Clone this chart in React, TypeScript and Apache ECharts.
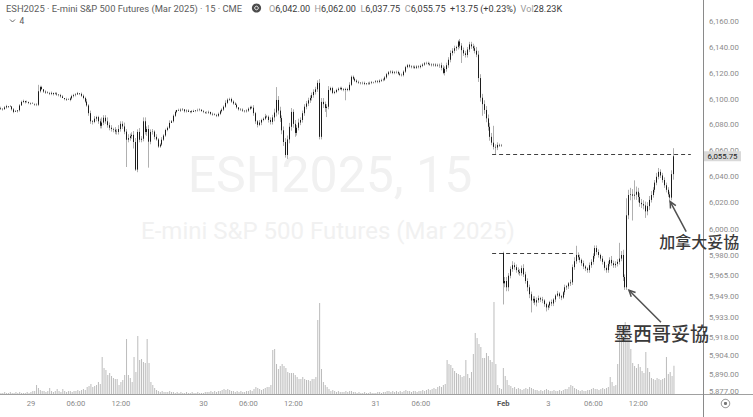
import React, { useEffect, useRef } from 'react';
import * as echarts from 'echarts';

const FONT = 'Roboto, "Noto Sans", Arial, sans-serif';
const CJK = '"Noto Sans CJK SC", "Noto Sans CJK TC", sans-serif';

const TITLE = 'ESH2025 · E-mini S&P 500 Futures (Mar 2025) · 15 · CME';
const WATERMARK_SYMBOL = 'ESH2025, 15';
const WATERMARK_NAME = 'E-mini S&P 500 Futures (Mar 2025)';
const INDICATOR_COUNT = '4';

// trading sessions (ET): first day, first minute, last day, end minute (exclusive)
const sessions: [string, number, string, number][] = [
  ['01-28', 1200, '01-29', 1020],
  ['01-29', 1080, '01-30', 1020],
  ['01-30', 1080, '01-31', 1020],
  ['02-02', 1080, '02-03', 1020],
];
const futureSlots = { day: '02-03', fromMin: 1080, count: 15 };
const sessionOpens = [6093, 6068.75, 6107, 5981.75];

// 15-minute closes per session
const closeS1 = [
  6092.5, 6092, 6093.5, 6094.5, 6094, 6094.25, 6092, 6090, 6090.5, 6091.25, 6095, 6097.75, 6098.5, 6097.5, 6097.75, 6097,
  6096.5, 6096.25, 6095.75, 6095.5, 6106, 6109.25, 6107.5, 6105.75, 6105, 6104.5, 6104, 6104.75, 6103.75, 6104.25, 6103.5, 6103, 6102, 6100.75, 6100, 6099.5, 6099.25, 6100.5, 6102.25, 6103,
  6103.5, 6104.5, 6104, 6102.5, 6100.75, 6098, 6095, 6089, 6082.75, 6082.25, 6084.75, 6086, 6082.75, 6079.25,
  6081.75, 6085.5, 6082.75, 6079.75, 6077.75, 6076.75, 6076.25, 6074.75, 6074.5, 6076.75, 6080.75, 6078.75, 6074.75, 6068.5, 6069.75, 6071.25, 6072.25, 6066.75, 6045.5, 6074.5, 6068.5, 6069.25, 6082.75, 6074.5, 6076.75, 6067, 6074.5, 6074.75, 6070.75, 6068.75,
];
const closeS2 = [
  6063.25, 6064.75, 6068.5, 6071.75, 6076, 6077.75, 6081.5, 6082.75, 6087, 6090, 6091.5, 6091, 6091.75, 6092, 6090.5, 6091, 6090, 6090.5, 6090, 6090.75, 6091.25, 6091.5, 6091.75, 6090.5,
  6090, 6089.5, 6089.5, 6090, 6088.5, 6088, 6087.5, 6087, 6088.5, 6090.5, 6091.75, 6094, 6097, 6099.5, 6100, 6098, 6096.5, 6095.5, 6093.5, 6092, 6091.75, 6091, 6090.5, 6091,
  6092.5, 6093.75, 6093.25, 6089, 6082.75, 6080, 6081.75, 6083.75, 6084.75, 6086.5, 6086.25, 6083.75, 6082.25, 6085.75,
  6089.5, 6099.25, 6091, 6085.25, 6075.75, 6066.75, 6056.75, 6068.75, 6078.5, 6090, 6080.75, 6073.75, 6077.75, 6081.75, 6083.75, 6089, 6094, 6096.5, 6099, 6100.75, 6103, 6105.5, 6107.5, 6112.5, 6070.75, 6097.75, 6096, 6093, 6094, 6107,
];
const closeS3 = [
  6108.5, 6104.75, 6105.5, 6107, 6108, 6108.5, 6107.5, 6107, 6107.75, 6107, 6111, 6117.25, 6115.75, 6114.25, 6113.25, 6112.75, 6112.25, 6112.5, 6111.75, 6112.25, 6112, 6112.5, 6113, 6113.25,
  6113.75, 6113.25, 6114.25, 6114.75, 6115, 6116.75, 6119.25, 6120.75, 6121.25, 6120.25, 6120.75, 6121, 6119.75, 6118.75, 6118.5, 6121.25, 6124.75, 6126.25, 6125.25, 6124.75, 6125, 6124.25, 6125.25, 6124.75,
  6125.75, 6126.75, 6127.75, 6128, 6127.25, 6126.75, 6126.25, 6126.75, 6126, 6126.5, 6126.25, 6124.25, 6120.25, 6123.25,
  6126.25, 6130.5, 6135.75, 6137.5, 6139.5, 6140.5, 6144.75, 6141.5, 6138, 6135.5, 6134.25, 6138.5, 6142.5, 6141, 6139.5, 6137.5, 6134.5, 6116.25, 6101, 6096, 6091.5, 6085, 6078.5, 6070.75, 6066.25, 6063, 6062.5, 6064.5, 6064, 6064.25,
];
const closeS4 = [
  5958.75, 5960.5, 5955.75, 5964.5, 5969.5, 5972.5, 5971, 5968.75, 5967.5, 5966.5, 5970.25, 5965.5, 5960.5, 5955.75, 5950.5, 5945.75, 5947, 5944.25, 5946, 5947.5, 5946.5, 5945.75, 5943, 5940.5,
  5942, 5944.5, 5943.5, 5946.5, 5949.5, 5951, 5949, 5948, 5952, 5955.75, 5956.5, 5958.75, 5959.5, 5971, 5975.5, 5980.25, 5978.5, 5976.5, 5974, 5971.5, 5970, 5968.75, 5972.5, 5975,
  5979.5, 5985.5, 5982.5, 5980.25, 5977.5, 5975, 5970.5, 5968.75, 5973.5, 5976.5, 5974, 5972.5, 5973.5, 5975,
  5977.5, 5980.25, 5963.5, 5955.75, 6010.5, 6026, 6026.5, 6025.5, 6026.25, 6028.5, 6024.5, 6020, 6019, 6018, 6013.5, 6017.5, 6022.25, 6026, 6030, 6035.5, 6040, 6043.75, 6041, 6037.5, 6033.5, 6030, 6026.5, 6024, 6042, 6055.75,
];

// upper wick above the body (points)
const upS1 = [
  1, 0, 1, 1, 0, 1, 0, 1, 1, 0, 1, 1, 1, 0, 1, 0,
  0, 1, 0, 1, 5, 1, 1, 0, 1, 1, 1, 1, 0, 1, 1, 0, 1, 1, 0, 1, 1, 1, 1, 1,
  1, 1, 0, 1, 1, 1, 2, 1, 2, 1, 2, 1, 1, 2,
  4, 2, 2, 3, 2, 2, 1, 2, 2, 3, 2, 2, 3, 2, 3, 2, 2, 3, 3, 2, 3, 2, 3, 3, 2, 3, 2, 2, 1, 2,
];
const upS2 = [
  1, 1, 2, 1, 1, 1, 2, 1, 1, 1, 0, 1, 1, 1, 0, 1, 1, 0, 1, 1, 0, 1, 1, 0,
  1, 0, 1, 1, 0, 1, 1, 1, 1, 1, 1, 1, 2, 1, 1, 1, 1, 1, 1, 0, 1, 1, 0, 1,
  1, 1, 1, 2, 1, 1, 2, 1, 1, 2, 1, 1, 2, 2,
  3, 10, 3, 3, 2, 3, 3, 3, 3, 3, 2, 3, 2, 3, 2, 2, 2, 2, 2, 2, 2, 2, 2, 2, 3, 3, 3, 2, 2, 3,
];
const upS3 = [
  1, 1, 1, 1, 1, 1, 1, 1, 1, 1, 2, 1, 1, 1, 1, 1, 0, 1, 1, 0, 1, 1, 1, 0,
  1, 1, 1, 1, 1, 1, 1, 1, 1, 1, 1, 1, 1, 1, 1, 1, 1, 1, 1, 1, 1, 1, 1, 1,
  1, 1, 1, 1, 1, 1, 1, 1, 1, 1, 1, 2, 2, 2,
  2, 2, 2, 2, 2, 1, 1, 2, 2, 2, 2, 2, 2, 2, 2, 2, 3, 3, 3, 3, 3, 3, 3, 3, 3, 13, 2, 2, 1, 1,
];
const upS4 = [
  1, 3, 3, 2, 2, 3, 2, 2, 2, 2, 2, 3, 2, 2, 2, 2, 2, 2, 2, 2, 1, 2, 1, 1,
  1, 1, 2, 1, 1, 2, 1, 1, 1, 2, 1, 1, 2, 2, 3, 7, 2, 2, 1, 2, 1, 1, 2, 2,
  2, 2, 2, 2, 1, 2, 1, 2, 2, 2, 3, 2, 2, 2,
  12, 3, 4, 2, 13, 4, 5, 4, 11, 4, 3, 3, 3, 3, 3, 3, 3, 3, 2, 2, 3, 3, 2, 2, 2, 2, 2, 2, 3, 6.25,
];

// lower wick below the body (points)
const dnS1 = [
  1, 1, 0, 1, 1, 0, 1, 1, 0, 1, 1, 0, 1, 1, 0, 1,
  1, 0, 1, 1, 1, 1, 0, 1, 1, 0, 1, 1, 1, 0, 1, 1, 1, 0, 1, 1, 0, 1, 1, 1,
  1, 0, 1, 1, 1, 1, 1, 2, 2, 2, 1, 2, 2, 2,
  2, 2, 2, 2, 2, 2, 2, 2, 2, 2, 2, 2, 2, 21, 2, 2, 2, 5, 1, 2, 2, 2, 2, 2, 3, 20, 2, 2, 2, 1,
];
const dnS2 = [
  1, 1, 1, 1, 1, 1, 1, 0, 1, 1, 1, 0, 1, 1, 1, 1, 0, 1, 1, 0, 1, 1, 1, 0,
  1, 1, 1, 1, 1, 1, 0, 1, 1, 1, 1, 1, 1, 1, 1, 1, 1, 0, 1, 1, 1, 1, 1, 1,
  1, 1, 1, 2, 2, 2, 1, 2, 1, 1, 1, 2, 2, 2,
  3, 3, 3, 3, 3, 3, 2, 3, 3, 3, 3, 3, 2, 2, 2, 2, 2, 2, 2, 2, 2, 2, 2, 2, 2, 2, 3, 3, 7, 2,
];
const dnS3 = [
  1, 1, 1, 1, 1, 1, 1, 1, 8, 1, 1, 1, 1, 1, 1, 1, 1, 1, 1, 1, 1, 1, 1, 1,
  1, 1, 1, 1, 1, 1, 1, 1, 1, 1, 1, 1, 1, 1, 1, 1, 1, 1, 1, 1, 1, 1, 1, 1,
  1, 1, 1, 1, 1, 1, 1, 1, 1, 1, 2, 2, 1, 2,
  2, 2, 2, 2, 2, 2, 2, 2, 10, 2, 2, 2, 2, 2, 2, 2, 2, 3, 3, 9, 3, 3, 3, 3, 2, 2, 5, 2, 1, 1,
];
const dnS4 = [
  16, 3, 3, 3, 2, 2, 2, 2, 2, 2, 2, 2, 2, 3, 3, 9, 2, 2, 3, 2, 2, 2, 2, 3,
  2, 2, 2, 2, 2, 1, 2, 2, 1, 2, 2, 2, 2, 2, 2, 2, 2, 2, 2, 2, 2, 2, 2, 2,
  2, 2, 2, 2, 2, 2, 2, 2, 2, 2, 2, 2, 2, 2,
  2, 2, 3, 2, 2, 3, 4, 19, 3, 4, 4, 3, 3, 3, 5, 3, 3, 2, 2, 2, 2, 2, 2, 2, 2, 2, 2, 3.5, 2, 4.25,
];

// volume (thousands of contracts)
const volS1 = [
  1, 1, 2, 1, 1, 2, 1, 1, 2, 1, 2, 1, 1, 1, 2, 1,
  2, 3, 3, 9, 6, 4, 3, 3, 2, 3, 6, 3, 2, 3, 5, 3, 2, 5, 3, 2, 3, 3, 2, 3,
  3, 4, 3, 4, 5, 4, 7, 8, 10, 7, 8, 9, 12, 10,
  37, 26, 24, 19, 21, 18, 16, 15, 15, 9, 12, 14, 19, 55, 19, 16, 12, 37, 22, 58, 34, 35, 32, 31, 55, 31, 12, 9, 6, 4,
];
const volS2 = [
  3, 2, 3, 2, 2, 2, 3, 2, 2, 1, 2, 1, 2, 1, 1, 2, 1, 1, 2, 1, 1, 2, 1, 1,
  1, 2, 2, 2, 3, 2, 3, 2, 3, 3, 4, 5, 4, 5, 4, 3, 3, 2, 3, 2, 3, 2, 2, 3,
  3, 4, 3, 5, 7, 6, 5, 4, 5, 6, 7, 7, 9, 44,
  45, 30, 25, 28, 30, 28, 26, 22, 21, 21, 21, 19, 17, 15, 15, 17, 15, 14, 14, 13, 15, 15, 17, 74, 91, 25, 12, 9, 7, 5,
];
const volS3 = [
  3, 4, 3, 2, 3, 2, 2, 2, 3, 2, 3, 3, 2, 2, 1, 2, 1, 1, 2, 1, 1, 2, 1, 1,
  1, 2, 2, 1, 2, 2, 3, 3, 2, 3, 2, 3, 2, 3, 2, 3, 4, 3, 3, 2, 3, 3, 2, 3,
  3, 4, 3, 4, 5, 4, 5, 6, 5, 7, 8, 7, 9, 10,
  34, 30, 29, 26, 23, 21, 20, 19, 17, 18, 34, 20, 16, 22, 40, 61, 56, 50, 47, 36, 36, 41, 38, 34, 32, 92, 30, 9, 6, 5,
];
const volS4 = [
  26, 18, 14, 9, 8, 6, 7, 5, 6, 5, 4, 5, 6, 5, 7, 6, 5, 4, 4, 3, 4, 3, 4, 5,
  4, 3, 3, 4, 3, 3, 4, 3, 4, 5, 5, 7, 9, 8, 6, 5, 4, 3, 4, 3, 3, 4, 4, 5,
  6, 5, 5, 4, 5, 6, 5, 6, 7, 17, 12, 8, 9, 30,
  67, 60, 57, 72, 66, 56, 45, 31, 28, 26, 30, 27, 23, 21, 42, 26, 22, 16, 15, 14, 16, 15, 14, 15, 16, 37, 20, 22, 18, 28.23,
];

const priceTicks = [6160, 6140, 6120, 6100, 6080, 6060, 6040, 6020, 6000, 5980, 5965, 5949, 5933, 5918, 5904, 5890, 5877];
const priceRange = { min: 5875.5, max: 6177.25 };
const volumeAxisMax = 394;

const timeTicks: [string, string][] = [
  ['01-29 00:00', '29'], ['01-29 06:00', '06:00'], ['01-29 12:00', '12:00'],
  ['01-30 00:00', '30'], ['01-30 06:00', '06:00'], ['01-30 12:00', '12:00'],
  ['01-31 00:00', '31'], ['01-31 06:00', '06:00'],
  ['02-02 18:00', 'Feb'], ['02-03 00:00', '3'], ['02-03 06:00', '06:00'], ['02-03 12:00', '12:00'],
];

const drawnLevels = [
  { price: 6057.5, from: '01-31 15:30', to: '02-03 20:00' },
  { price: 5981.75, from: '01-31 15:30', to: '02-03 03:30' },
];

const annotations = [
  { text: '加拿大妥協', at: '02-03 16:15', price: 6021 },
  { text: '墨西哥妥協', at: '02-03 10:45', price: 5953.5 },
];

const fmt2 = (v: number) =>
  v.toLocaleString('en-US', { minimumFractionDigits: 2, maximumFractionDigits: 2 });
const pad2 = (n: number) => String(n).padStart(2, '0');
const hhmm = (m: number) => `${pad2(Math.floor(m / 60))}:${pad2(m % 60)}`;

export default function App() {
  const ref = useRef<HTMLDivElement>(null);

  useEffect(() => {
    const el = ref.current;
    if (!el) return;
    const chart = echarts.init(el, undefined, { renderer: 'svg' });

    const categories: string[] = [];
    for (const [d1, m1, d2, m2] of sessions) {
      for (let m = m1; m < 1440; m += 15) categories.push(`${d1} ${hhmm(m)}`);
      for (let m = 0; m < m2; m += 15) categories.push(`${d2} ${hhmm(m)}`);
    }
    for (let k = 0; k < futureSlots.count; k++) {
      categories.push(`${futureSlots.day} ${hhmm(futureSlots.fromMin + 15 * k)}`);
    }

    const closes = [closeS1, closeS2, closeS3, closeS4];
    const ups = [upS1, upS2, upS3, upS4];
    const dns = [dnS1, dnS2, dnS3, dnS4];
    const vols = [volS1, volS2, volS3, volS4];

    const wickData: number[][] = [];
    const bodyData: number[][] = [];
    const volData: number[] = [];
    closes.forEach((cs, s) => {
      cs.forEach((c, j) => {
        const o = j === 0 ? sessionOpens[s] : cs[j - 1];
        const top = Math.max(o, c);
        const bot = Math.min(o, c);
        wickData.push([o, c, bot - (dns[s][j] ?? 0), top + (ups[s][j] ?? 0)]);
        bodyData.push([o, c, bot, top]);
        volData.push(vols[s][j] ?? 0);
      });
    });

    const tickMap = new Map(timeTicks);
    const idx = (cat: string) => categories.indexOf(cat);

    const WICK = '#b0b0b0';
    const BODY = '#1c1c1c';

    chart.setOption({
      animation: false,
      backgroundColor: '#ffffff',
      textStyle: { fontFamily: FONT },
      grid: { left: 0, right: 50, top: 0, bottom: 23, containLabel: false },
      xAxis: {
        type: 'category',
        data: categories,
        boundaryGap: true,
        axisLine: { show: true, lineStyle: { color: '#a0a0a0', width: 1 } },
        axisTick: { show: false },
        splitLine: { show: false },
        axisLabel: {
          interval: (_i: number, val: string) => tickMap.has(val),
          formatter: (val: string) => {
            const t = tickMap.get(val);
            if (!t) return '';
            return t === 'Feb' ? `{b|${t}}` : t;
          },
          color: '#8a8a8a',
          fontSize: 7.6,
          fontFamily: FONT,
          margin: 5,
          rich: { b: { fontWeight: 'bold', color: '#555555', fontSize: 7.6, fontFamily: FONT } },
        },
      },
      yAxis: [
        {
          type: 'log',
          logBase: 10,
          min: priceRange.min,
          max: priceRange.max,
          position: 'right',
          axisLine: { show: true, lineStyle: { color: '#8a8a8a', width: 1 } },
          axisTick: { show: false },
          splitLine: { show: false },
          minorTick: { show: false },
          minorSplitLine: { show: false },
          axisLabel: {
            customValues: priceTicks,
            formatter: (v: number) => fmt2(v),
            color: '#8c8c8c',
            fontSize: 7.8,
            fontFamily: FONT,
            margin: 6,
          },
        },
        { type: 'value', min: 0, max: volumeAxisMax, show: false, splitLine: { show: false } },
      ],
      series: [
        {
          type: 'bar',
          xAxisIndex: 0,
          yAxisIndex: 1,
          data: volData,
          barWidth: 1,
          itemStyle: { color: '#bcbcbc' },
          silent: true,
          z: 1,
        },
        {
          type: 'candlestick',
          xAxisIndex: 0,
          yAxisIndex: 0,
          data: wickData,
          barWidth: 0.4,
          silent: true,
          emphasis: { disabled: true },
          itemStyle: {
            color: WICK, color0: WICK, borderColor: WICK, borderColor0: WICK, borderColorDoji: WICK, borderWidth: 1,
          },
          z: 2,
        },
        {
          type: 'candlestick',
          xAxisIndex: 0,
          yAxisIndex: 0,
          data: bodyData,
          barWidth: 1.2,
          silent: true,
          emphasis: { disabled: true },
          itemStyle: {
            color: BODY, color0: BODY, borderColor: BODY, borderColor0: BODY, borderColorDoji: BODY, borderWidth: 1,
          },
          z: 3,
          markLine: {
            silent: true,
            symbol: ['none', 'none'],
            label: { show: false },
            emphasis: { disabled: true },
            lineStyle: { color: '#404040', type: [4, 3], width: 1.1 },
            data: drawnLevels.map((l) => [
              { coord: [idx(l.from), l.price] },
              { coord: [idx(l.to), l.price] },
            ]),
          },
        },
      ],
    });

    const toPx = (cat: string, price: number) =>
      chart.convertToPixel({ xAxisIndex: 0, yAxisIndex: 0 } as any, [idx(cat), price]) as number[];

    const last = wickData[wickData.length - 1];
    const prevClose = wickData[wickData.length - 2][1];
    const chg = last[1] - prevClose;
    const pct = (chg / prevClose) * 100;
    const lastVol = volData[volData.length - 1];
    const sign = chg >= 0 ? '+' : '−';

    const ohlcText =
      `{l|O}{v|${fmt2(last[0])}}  {l|H}{v|${fmt2(last[3])}}  {l|L}{v|${fmt2(last[2])}}  {l|C}{v|${fmt2(last[1])}}  ` +
      `{v|${sign}${Math.abs(chg).toFixed(2)} (${sign}${Math.abs(pct).toFixed(2)}%)}  {l|Vol}{v|${lastVol.toFixed(2)}K}`;

    const graphics: any[] = [
      {
        type: 'text', z: 0, silent: true,
        style: {
          text: WATERMARK_SYMBOL, x: 330, y: 175, fill: '#f1f1f1', fontSize: 50, fontFamily: FONT,
          textAlign: 'center', textVerticalAlign: 'middle', align: 'center', verticalAlign: 'middle',
        },
      },
      {
        type: 'text', z: 0, silent: true,
        style: {
          text: WATERMARK_NAME, x: 328, y: 231, fill: '#f1f1f1', fontSize: 24, fontFamily: FONT,
          textAlign: 'center', textVerticalAlign: 'middle', align: 'center', verticalAlign: 'middle',
        },
      },
      {
        type: 'text', z: 50, silent: true,
        style: {
          text: TITLE, x: 6, y: 8.5, fill: '#5c5c5c', fontSize: 9.4, fontFamily: FONT,
          textVerticalAlign: 'middle', verticalAlign: 'middle',
        },
      },
      { type: 'circle', z: 50, silent: true, shape: { cx: 256.5, cy: 8, r: 4.6 }, style: { fill: '#4d4d4d' } },
      { type: 'circle', z: 51, silent: true, shape: { cx: 256.5, cy: 8, r: 1.8 }, style: { fill: 'none', stroke: '#ffffff', lineWidth: 0.9 } },
      {
        type: 'text', z: 50, silent: true,
        style: {
          text: ohlcText, x: 269, y: 8.5, fontSize: 9.1, fontFamily: FONT,
          textVerticalAlign: 'middle', verticalAlign: 'middle',
          rich: {
            l: { fill: '#9a9a9a', color: '#9a9a9a', fontSize: 9.1, fontFamily: FONT },
            v: { fill: '#3a3a3a', color: '#3a3a3a', fontSize: 9.1, fontFamily: FONT },
          },
        },
      },
      {
        type: 'polyline', z: 50, silent: true,
        shape: { points: [[10, 19.5], [12.5, 22], [15, 19.5]] },
        style: { stroke: '#666666', lineWidth: 1, fill: 'none' },
      },
      {
        type: 'text', z: 50, silent: true,
        style: {
          text: INDICATOR_COUNT, x: 19.5, y: 21, fill: '#555555', fontSize: 8.4, fontFamily: FONT,
          textVerticalAlign: 'middle', verticalAlign: 'middle',
        },
      },
      // pane borders
      { type: 'line', z: 5, silent: true, shape: { x1: 703, y1: 394.5, x2: 753, y2: 394.5 }, style: { stroke: '#a0a0a0', lineWidth: 1 } },
      { type: 'line', z: 5, silent: true, shape: { x1: 703.5, y1: 394, x2: 703.5, y2: 417 }, style: { stroke: '#8a8a8a', lineWidth: 1 } },
      { type: 'circle', z: 5, silent: true, shape: { cx: 725.5, cy: 403.5, r: 4.2 }, style: { fill: 'none', stroke: '#777777', lineWidth: 0.9 } },
      { type: 'circle', z: 5, silent: true, shape: { cx: 725.5, cy: 403.5, r: 1.6 }, style: { fill: '#777777' } },
    ];

    // last price label on the price scale
    const lp = toPx(categories[wickData.length - 1], last[1]);
    graphics.push(
      { type: 'rect', z: 60, silent: true, shape: { x: 704, y: lp[1] - 5, width: 37, height: 10 }, style: { fill: '#d9d9d9' } },
      {
        type: 'text', z: 61, silent: true,
        style: {
          text: fmt2(last[1]), x: 722.5, y: lp[1], fill: '#222222', fontSize: 7.8, fontFamily: FONT,
          textAlign: 'center', textVerticalAlign: 'middle', align: 'center', verticalAlign: 'middle',
        },
      }
    );

    // annotations with arrows
    const layout = [
      { tail: [16, 30], label: [-11, 39], size: 16 },
      { tail: [32, 32], label: [-15, 42], size: 19 },
    ];
    annotations.forEach((a, k) => {
      const tip = toPx(a.at, a.price);
      const L = layout[k];
      const tail = [tip[0] + L.tail[0], tip[1] + L.tail[1]];
      const ang = Math.atan2(tail[1] - tip[1], tail[0] - tip[0]);
      const hl = 7;
      const spread = 0.45;
      const h1 = [tip[0] + hl * Math.cos(ang + spread), tip[1] + hl * Math.sin(ang + spread)];
      const h2 = [tip[0] + hl * Math.cos(ang - spread), tip[1] + hl * Math.sin(ang - spread)];
      graphics.push(
        {
          type: 'line', z: 100, silent: true,
          shape: { x1: tail[0], y1: tail[1], x2: tip[0], y2: tip[1] },
          style: { stroke: '#505050', lineWidth: 1.5 },
        },
        {
          type: 'polyline', z: 100, silent: true,
          shape: { points: [h1, tip, h2] },
          style: { stroke: '#505050', lineWidth: 1.5, fill: 'none' },
        },
        {
          type: 'text', z: 100, silent: true,
          style: {
            text: a.text, x: tip[0] + L.label[0], y: tip[1] + L.label[1], fill: '#3a3a3a',
            fontSize: L.size, fontFamily: CJK, fontWeight: 500,
            textVerticalAlign: 'middle', verticalAlign: 'middle',
          },
        }
      );
    });

    chart.setOption({ graphic: { elements: graphics } });

    return () => {
      chart.dispose();
    };
  }, []);

  return (
    <div
      ref={ref}
      style={{ position: 'fixed', left: 0, top: 0, width: 753, height: 417, background: '#ffffff' }}
    />
  );
}
